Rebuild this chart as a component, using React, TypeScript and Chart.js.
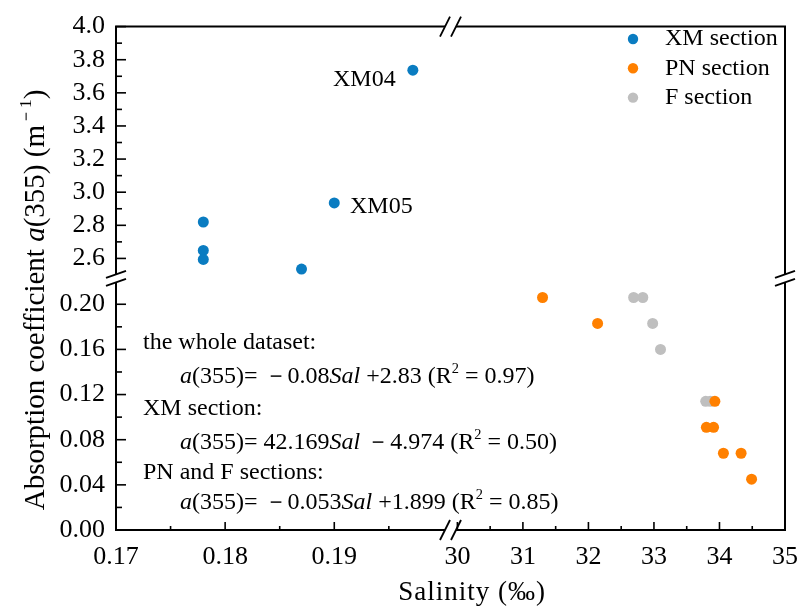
import React, { useEffect, useRef } from 'react';
import { Chart, registerables } from 'chart.js';
Chart.register(...registerables);

// ---- data ----
const xmSalinity = [0.178, 0.178, 0.178, 0.187, 0.190, 0.1972];
const xmA355 = [2.82, 2.648, 2.594, 2.536, 2.935, 3.737];
const pnSalinity = [31.30, 32.14, 33.93, 33.80, 33.91, 34.06, 34.33, 34.49];
const pnA355 = [0.206, 0.183, 0.114, 0.091, 0.091, 0.068, 0.068, 0.045];
const fSalinity = [32.69, 32.83, 32.98, 33.10, 33.79, 33.86];
const fA355 = [0.206, 0.206, 0.183, 0.160, 0.114, 0.114];

const seriesLabels = ['XM section', 'PN section', 'F section'];
const seriesColors = ['#0A7CC1', '#FF8000', '#BFBFBF'];
const pointLabels = ['XM04', 'XM05'];

const FONT = "'Liberation Serif', 'Times New Roman', serif";

type Seg = { t: string; i?: boolean; sup?: boolean };

const equations: Seg[][] = [
  [{ t: 'the whole dataset:' }],
  [{ t: 'a', i: true }, { t: '(355)= ' }, { t: '－' }, { t: '0.08' }, { t: 'Sal', i: true }, { t: ' +2.83 (R' }, { t: '2', sup: true }, { t: ' = 0.97)' }],
  [{ t: 'XM section:' }],
  [{ t: 'a', i: true }, { t: '(355)= 42.169' }, { t: 'Sal', i: true }, { t: ' ' }, { t: '－' }, { t: '4.974 (R' }, { t: '2', sup: true }, { t: ' = 0.50)' }],
  [{ t: 'PN and F sections:' }],
  [{ t: 'a', i: true }, { t: '(355)= ' }, { t: '－' }, { t: '0.053' }, { t: 'Sal', i: true }, { t: ' +1.899 (R' }, { t: '2', sup: true }, { t: ' = 0.85)' }],
];
const yTitle: Seg[] = [{ t: 'Absorption coefficient ' }, { t: 'a', i: true }, { t: '(355) (m' }, { t: '－1', sup: true }, { t: ')' }];
const xTitle = 'Salinity (‰)';

function segWidth(ctx: CanvasRenderingContext2D, segs: Seg[], size: number) {
  let w = 0;
  for (const s of segs) {
    const fs = s.sup ? size * 0.6 : size;
    ctx.font = `${s.i ? 'italic ' : ''}${fs}px ${FONT}`;
    w += ctx.measureText(s.t).width;
  }
  return w;
}
function drawRich(ctx: CanvasRenderingContext2D, segs: Seg[], x: number, y: number, size: number) {
  let cx = x;
  for (const s of segs) {
    const fs = s.sup ? size * 0.6 : size;
    ctx.font = `${s.i ? 'italic ' : ''}${fs}px ${FONT}`;
    ctx.fillText(s.t, cx, s.sup ? y - size * 0.33 : y);
    cx += ctx.measureText(s.t).width;
  }
}

const decor = {
  id: 'decor',
  afterDraw(chart: any) {
    const ctx: CanvasRenderingContext2D = chart.ctx;
    const { left, right, top, bottom } = chart.chartArea;
    const s = chart.scales;
    const line = (x1: number, y1: number, x2: number, y2: number) => {
      ctx.beginPath(); ctx.moveTo(x1, y1); ctx.lineTo(x2, y2); ctx.stroke();
    };
    ctx.save();
    ctx.strokeStyle = '#000';
    ctx.lineWidth = 2;
    line(left - 1, top, right + 1, top);
    line(right, top, right, bottom);
    // inward ticks
    ctx.lineWidth = 1.6;
    for (const id of ['xL', 'xR']) {
      const sc = s[id];
      sc.ticks.forEach((t: any) => {
        const px = sc.getPixelForValue(t.value);
        const len = t.label ? 8 : 4;
        line(px, bottom, px, bottom - len);
      });
    }
    for (const id of ['yT', 'yB']) {
      const sc = s[id];
      sc.ticks.forEach((t: any) => {
        const py = sc.getPixelForValue(t.value);
        const len = t.label ? 10 : 6;
        line(left, py, left + len, py);
      });
    }
    // axis breaks
    const bx = s.xL.right;
    const by = s.yT.bottom;
    ctx.fillStyle = '#fff';
    for (const yy of [top, bottom]) {
      ctx.fillRect(bx - 5.5, yy - 3, 11, 6);
    }
    for (const xx of [left, right]) {
      ctx.fillRect(xx - 3, by - 4, 6, 8);
    }
    ctx.lineWidth = 1.8;
    for (const yy of [top, bottom]) {
      for (const c of [bx - 5.5, bx + 5.5]) line(c - 5, yy + 10, c + 5, yy - 10);
    }
    for (const xx of [left, right]) {
      for (const c of [by - 4, by + 4]) line(xx - 10, c + 3.5, xx + 10, c - 3.5);
    }
    // legend
    ctx.textBaseline = 'middle';
    ctx.textAlign = 'left';
    chart.data.datasets.forEach((d: any, i: number) => {
      const y = 39 + i * 29.3;
      ctx.fillStyle = d.backgroundColor;
      ctx.beginPath(); ctx.arc(633, y, 5.2, 0, Math.PI * 2); ctx.fill();
      ctx.fillStyle = '#000';
      ctx.font = `24px ${FONT}`;
      ctx.fillText(d.label, 665, y);
    });
    // point labels
    ctx.font = `24px ${FONT}`;
    ctx.fillText(pointLabels[0], 333, 80);
    ctx.fillText(pointLabels[1], 350, 207);
    // equations
    const eqY = [343, 377, 409, 443, 473, 503];
    equations.forEach((segs, i) => {
      drawRich(ctx, segs, i % 2 === 0 ? 143 : 180, eqY[i], 24);
    });
    // axis titles
    ctx.save();
    ctx.translate(36, 300);
    ctx.rotate(-Math.PI / 2);
    const w = segWidth(ctx, yTitle, 29);
    drawRich(ctx, yTitle, -w / 2, 0, 29);
    ctx.restore();
    ctx.font = `27px ${FONT}`;
    ctx.textAlign = 'center';
    (ctx as any).letterSpacing = '1px';
    ctx.fillText(xTitle, 472, 593);
    ctx.restore();
  },
};

const tickFont = { family: FONT, size: 26 };
const border = { display: true, color: '#000', width: 2 };

export default function App() {
  const ref = useRef<HTMLCanvasElement>(null);
  useEffect(() => {
    const chart = new Chart(ref.current as HTMLCanvasElement, {
      type: 'scatter',
      data: {
        datasets: [
          { label: seriesLabels[0], data: xmSalinity.map((x, i) => ({ x, y: xmA355[i] })), xAxisID: 'xL', yAxisID: 'yT', backgroundColor: seriesColors[0], borderColor: seriesColors[0], pointRadius: 5.5, borderWidth: 0 },
          { label: seriesLabels[1], data: pnSalinity.map((x, i) => ({ x, y: pnA355[i] })), xAxisID: 'xR', yAxisID: 'yB', backgroundColor: seriesColors[1], borderColor: seriesColors[1], pointRadius: 5.5, borderWidth: 0 },
          { label: seriesLabels[2], data: fSalinity.map((x, i) => ({ x, y: fA355[i] })), xAxisID: 'xR', yAxisID: 'yB', backgroundColor: seriesColors[2], borderColor: seriesColors[2], pointRadius: 5.5, borderWidth: 0 },
        ],
      },
      options: {
        responsive: false,
        animation: false,
        events: [],
        layout: { padding: { top: 24, right: 13, left: 0, bottom: 0 } },
        plugins: { legend: { display: false }, tooltip: { enabled: false } },
        scales: {
          xL: {
            type: 'linear', position: 'bottom', stack: 'sx', stackWeight: 1, min: 0.17, max: 0.20065,
            afterFit: (sc: any) => { sc.height = 77; },
            afterBuildTicks: (sc: any) => { sc.ticks = sc.ticks.filter((t: any) => t.value >= 0.1699 && t.value < 0.198); },
            ticks: {
              stepSize: 0.005, includeBounds: false, autoSkip: false, maxRotation: 0, padding: 12, font: tickFont, color: '#000',
              callback: (v: any) => { const k = Math.round(v * 1000); return k % 10 === 0 ? (k / 1000).toFixed(2) : ''; },
            },
            grid: { display: false, drawTicks: false }, border,
          },
          xR: {
            type: 'linear', position: 'bottom', stack: 'sx', stackWeight: 1, min: 29.895, max: 35,
            afterFit: (sc: any) => { sc.height = 77; },
            afterBuildTicks: (sc: any) => { sc.ticks = sc.ticks.filter((t: any) => t.value >= 29.99 && t.value <= 35.001); },
            ticks: {
              stepSize: 0.5, includeBounds: false, autoSkip: false, maxRotation: 0, padding: 12, font: tickFont, color: '#000',
              callback: (v: any) => { const k = Math.round(v * 10); return k % 10 === 0 ? String(k / 10) : ''; },
            },
            grid: { display: false, drawTicks: false }, border,
          },
          yB: {
            type: 'linear', position: 'left', stack: 'sy', stackWeight: 1, min: 0, max: 0.223,
            afterFit: (sc: any) => { sc.width = 116; },
            afterBuildTicks: (sc: any) => { sc.ticks = sc.ticks.filter((t: any) => t.value >= -0.0001 && t.value < 0.21); },
            ticks: {
              stepSize: 0.02, includeBounds: false, autoSkip: false, padding: 11, font: tickFont, color: '#000',
              callback: (v: any) => { const k = Math.round(v * 100); return k % 4 === 0 ? (k / 100).toFixed(2) : ''; },
            },
            grid: { display: false, drawTicks: false }, border,
          },
          yT: {
            type: 'linear', position: 'left', stack: 'sy', stackWeight: 1, min: 2.48, max: 4.0,
            afterFit: (sc: any) => { sc.width = 116; },
            afterBuildTicks: (sc: any) => { sc.ticks = sc.ticks.filter((t: any) => t.value > 2.55 && t.value <= 4.0001); },
            ticks: {
              stepSize: 0.1, includeBounds: false, autoSkip: false, padding: 11, font: tickFont, color: '#000',
              callback: (v: any) => { const k = Math.round(v * 10); return k % 2 === 0 ? (k / 10).toFixed(1) : ''; },
            },
            grid: { display: false, drawTicks: false }, border,
          },
        },
      } as any,
      plugins: [decor],
    });
    return () => chart.destroy();
  }, []);
  return (
    <div style={{ position: 'fixed', left: 0, top: 0, width: 810, height: 607, background: '#fff' }}>
      <canvas ref={ref} width={810} height={607} style={{ display: 'block' }} />
    </div>
  );
}
